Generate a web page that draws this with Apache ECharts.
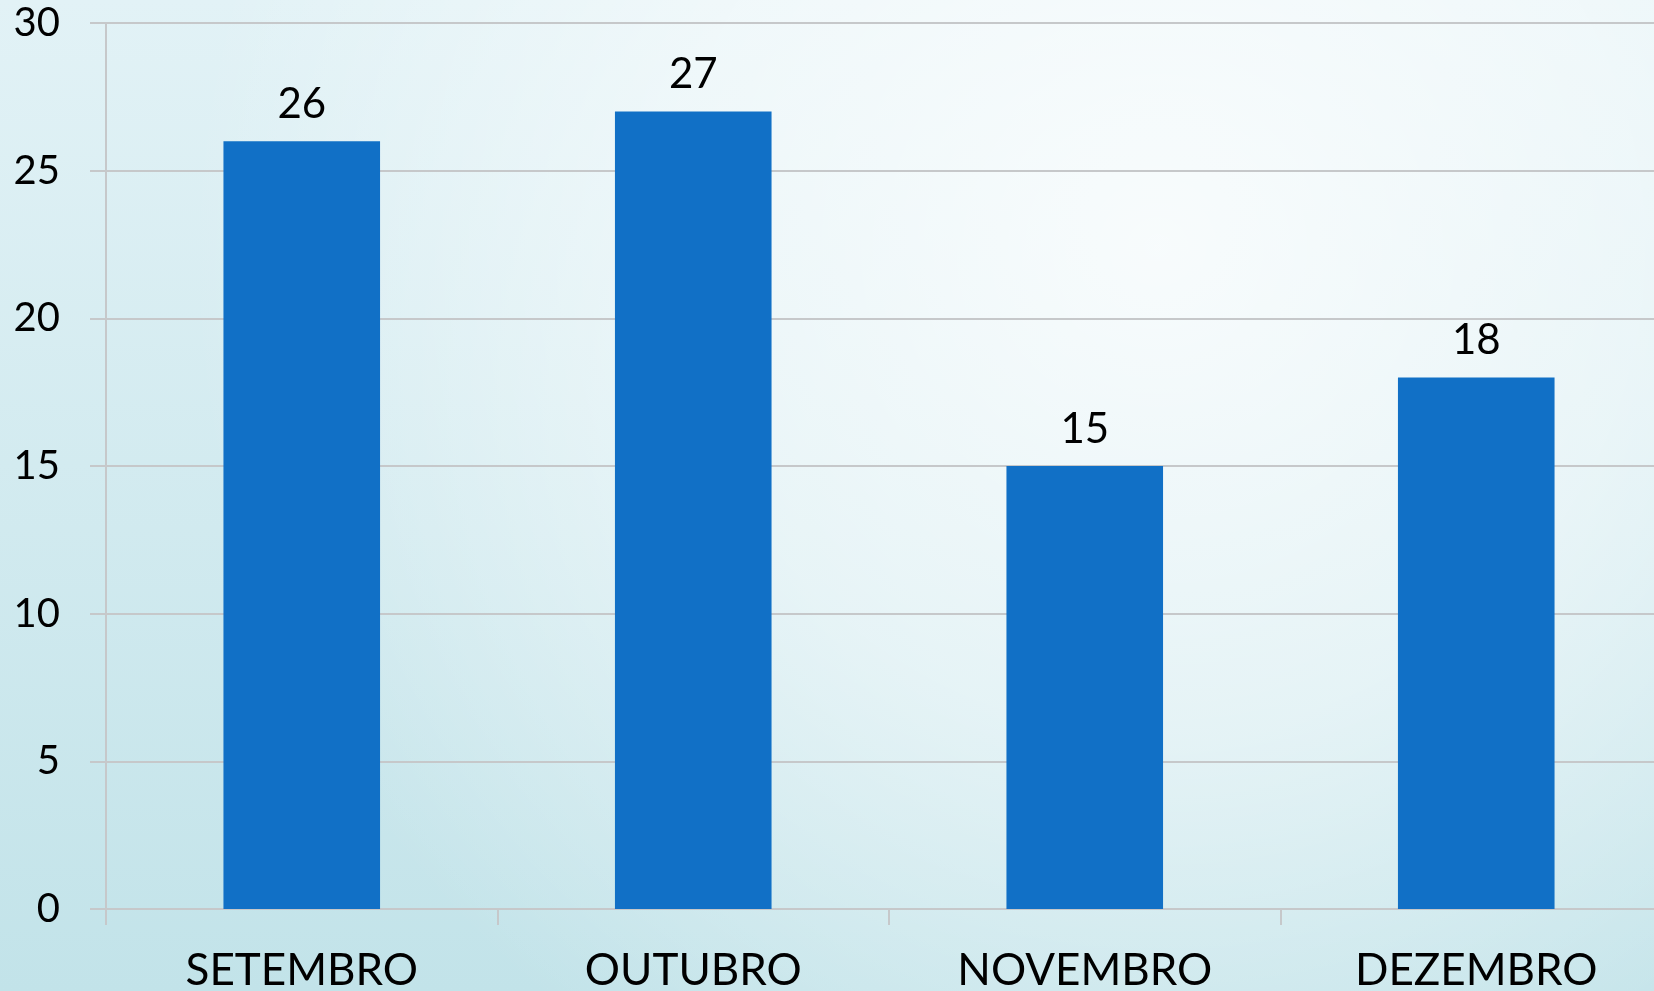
<!DOCTYPE html>
<html>
<head>
<meta charset="utf-8">
<script src="https://cdn.jsdelivr.net/npm/echarts@6/dist/echarts.min.js"></script>
<style>
  html, body { margin: 0; padding: 0; }
  #chart { width: 1654px; height: 991px; }
</style>
</head>
<body>
<div id="chart"></div>
<script>
var MONTHS = ['SETEMBRO', 'OUTUBRO', 'NOVEMBRO', 'DEZEMBRO'];
var COUNTS = [26, 27, 15, 18];

var FONT = 'Lato, "Open Sans", sans-serif';
var GRID_COLOR = '#c6c8ca';

var chart = echarts.init(document.getElementById('chart'), null, { renderer: 'canvas' });

chart.setOption({
  animation: false,
  // base: light at the top, teal at the bottom
  backgroundColor: {
    type: 'linear', x: 0, y: 0, x2: 0, y2: 1,
    colorStops: [
      { offset: 0, color: '#e2f2f6' },
      { offset: 1, color: '#c2e3e9' }
    ]
  },
  // soft white glow toward the upper right
  graphic: [{
    type: 'rect',
    z: -100,
    silent: true,
    shape: { x: 0, y: 0, width: 1654, height: 991 },
    style: {
      fill: {
        type: 'radial', x: 0.7, y: 0.25, r: 0.98,
        colorStops: [
          { offset: 0, color: 'rgba(255,255,255,0.8)' },
          { offset: 0.5, color: 'rgba(255,255,255,0.5)' },
          { offset: 1, color: 'rgba(255,255,255,0)' }
        ]
      }
    }
  }],
  // plot runs a little past the right edge of the canvas
  grid: { left: 106, width: 1566, top: 23, bottom: 82, outerBoundsMode: 'none' },
  xAxis: {
    type: 'category',
    data: MONTHS,
    axisLine: { show: true, lineStyle: { color: GRID_COLOR, width: 2 } },
    axisTick: { show: true, length: 16, lineStyle: { color: GRID_COLOR, width: 2 } },
    axisLabel: { color: '#000', fontFamily: FONT, fontSize: 44, margin: 40 }
  },
  yAxis: {
    type: 'value',
    min: 0, max: 30, interval: 5,
    axisLine: { show: true, lineStyle: { color: GRID_COLOR, width: 2 } },
    axisTick: { show: true, length: 16, lineStyle: { color: GRID_COLOR, width: 2 } },
    splitLine: { lineStyle: { color: GRID_COLOR, width: 2 } },
    axisLabel: { color: '#000', fontFamily: FONT, fontSize: 40, margin: 46, padding: [10, 0, 0, 0] }
  },
  series: [{
    type: 'bar',
    data: COUNTS,
    barWidth: '40%',
    itemStyle: { color: '#1170c6' },
    label: {
      show: true,
      position: 'top',
      distance: 16,
      color: '#000',
      fontFamily: FONT,
      fontSize: 42
    }
  }]
});
</script>
</body>
</html>
